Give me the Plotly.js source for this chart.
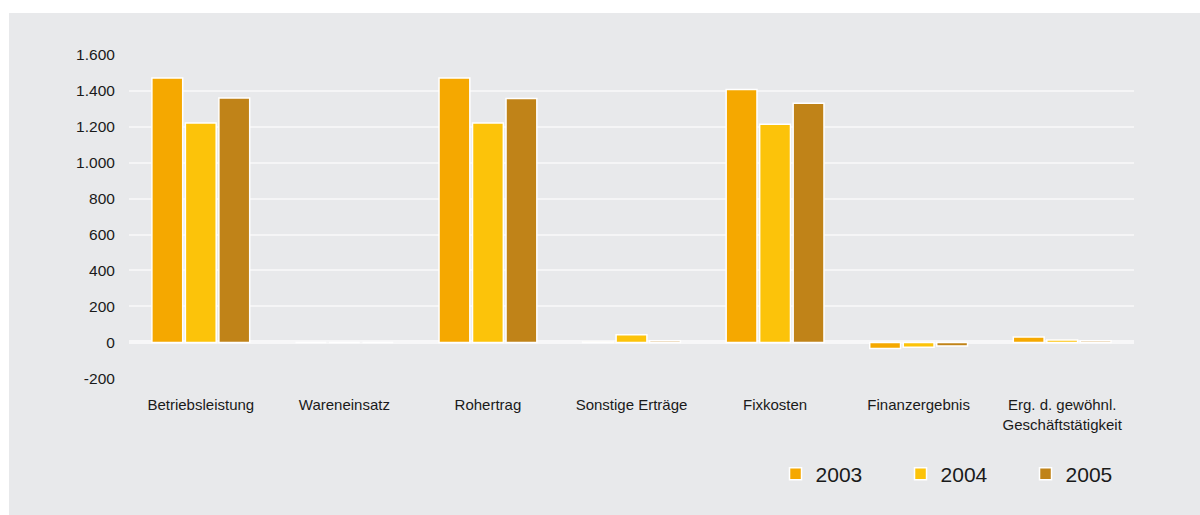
<!DOCTYPE html>
<html>
<head>
<meta charset="utf-8">
<script src="https://cdn.plot.ly/plotly-3.0.1.min.js"></script>
<style>
  html, body { margin: 0; padding: 0; background: #ffffff; width: 1200px; height: 515px; overflow: hidden; }
  #chart { position: absolute; left: 9px; top: 13px; width: 1191px; height: 502px; }
</style>
</head>
<body>
<div id="chart"></div>
<script>
const categories = ["Betriebsleistung", "Wareneinsatz", "Rohertrag", "Sonstige Erträge", "Fixkosten", "Finanzergebnis", "Erg. d. gewöhnl.<br>Geschäftstätigkeit"];
const values2003 = [1470, 0, 1469, 3, 1406, -33, 31];
const values2004 = [1219, 0, 1219, 43, 1213, -26, 14];
const values2005 = [1358, 0, 1356, 9, 1330, -19, 9];
const seriesNames = ["2003", "2004", "2005"];
const seriesColors = ["#F5A800", "#FCC30A", "#C08318"];
const yTickVals = [-200, 0, 200, 400, 600, 800, 1000, 1200, 1400, 1600];
const yTickText = ["-200", "0", "200", "400", "600", "800", "1.000", "1.200", "1.400", "1.600"];

const allValues = [values2003, values2004, values2005];
const traces = allValues.map((vals, i) => ({
  type: "bar",
  name: seriesNames[i],
  x: categories,
  y: vals,
  marker: { color: seriesColors[i], line: { color: "#ffffff", width: 1.5 } },
  hoverinfo: "x+y+name"
}));

const layout = {
  width: 1191,
  height: 502,
  paper_bgcolor: "#E8E9EB",
  plot_bgcolor: "#E8E9EB",
  margin: { l: 120, r: 66, t: 41, b: 135.5, autoexpand: false },
  barmode: "group",
  bargap: 0.30,
  bargroupgap: 0.08,
  font: { family: "Liberation Sans, Arial, sans-serif", color: "#1a1a1a" },
  xaxis: {
    type: "category",
    showgrid: false,
    zeroline: false,
    showline: false,
    ticks: "outside",
    ticklen: 12,
    tickcolor: "rgba(0,0,0,0)",
    tickfont: { size: 15, color: "#1a1a1a" },
    automargin: false
  },
  yaxis: {
    range: [-203, 1603],
    tickvals: yTickVals,
    ticktext: yTickText,
    showgrid: true,
    gridcolor: "#F5F5F6",
    gridwidth: 2,
    zeroline: true,
    zerolinecolor: "#F7F7F8",
    zerolinewidth: 4,
    showline: false,
    ticks: "outside",
    ticklen: 10,
    tickcolor: "rgba(0,0,0,0)",
    tickfont: { size: 15.5, color: "#1a1a1a" },
    automargin: false
  },
  showlegend: true,
  legend: {
    orientation: "h",
    xref: "container",
    yref: "container",
    x: 0.6436,
    xanchor: "left",
    y: 0.0817,
    yanchor: "middle",
    entrywidth: 80,
    entrywidthmode: "pixels",
    font: { size: 21, color: "#1a1a1a" },
    bgcolor: "rgba(0,0,0,0)",
    traceorder: "normal"
  }
};

Plotly.newPlot("chart", traces, layout, { displayModeBar: false, staticPlot: true });
</script>
</body>
</html>
